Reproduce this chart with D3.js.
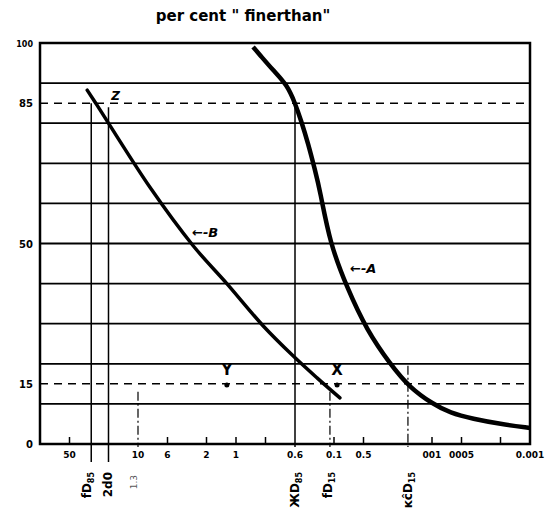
<!DOCTYPE html>
<html>
<head>
<meta charset="utf-8">
<script src="https://cdn.jsdelivr.net/npm/d3@7"></script>
<style>
	body { margin: 0; background: white; }
	text { font-family: "DejaVu Sans", sans-serif; font-weight: bold; fill: black; }
</style>
</head>
<body>
<div id="root"></div>
<script>
//grain size (mm) and percent finer for the two curves
const curveASize = [0.67, 0.569, 0.42, 0.30, 0.25, 0.217, 0.184, 0.156, 0.139, 0.11, 0.0737, 0.046, 0.0268, 0.0168, 0.0098, 0.00655, 0.00382, 0.00202, 0.001];
const curveAPct = [99, 97, 93.25, 89.5, 85, 80.75, 75, 68.25, 63.25, 50, 39, 28.25, 20, 14, 10, 7.75, 6.25, 5, 4];

const curveBSize = [33, 26.2, 7.55, 2.75, 1.24, 0.53, 0.262, 0.149, 0.087];
const curveBPct = [88.25, 84.5, 64, 49.5, 40, 29.5, 22, 16.5, 11.5];

//x tick labels, as written on the sheet
const xTickValues = [50, 10, 5, 2, 1, 0.25, 0.1, 0.05, 0.01, 0.005, 0.001];
const xTickText = ["50", "10", "6", "2", "1", "0.6", "0.1", "0.5", "001", "0005", "0.001"];
//small tick marks on the axis
const xMinorTicks = [50, 5, 2, 1, 0.5, 0.1, 0.05, 0.01, 0.005, 0.002];

//y tick labels
const yTickValues = [100, 85, 50, 15, 0];
const yTickText = ["100", "85", "50", "15", "0"];
const gridValues = [90, 80, 70, 60, 50, 40, 30, 20, 10];
const dashedValues = [85, 15];

//the two marked points on the 15% line
const pointNames = ["Y", "X"];
const pointSize = [1.24, 0.093];
const pointPct = [14.7, 14.7];

//vertical guide lines: size and top percent
const guideSize = [30, 20, 10, 0.25, 0.11, 0.0176];
const guideTop = [85, 84, 13, 84, 13, 19.5];

const width = 546;
const height = 513;

const svg = d3.select("#root")
	.append("svg")
	.attr("width", width)
	.attr("height", height)
	.attr("style", "background-color: white;");

//grain size decreases to the right
const xScale = d3.scaleLog()
	.domain([100, 0.001])
	.range([40, 530]);

const yScale = d3.scaleLinear()
	.domain([0, 100])
	.range([444, 43]);

//horizontal grid lines
svg.selectAll("line.grid")
	.data(gridValues)
	.enter()
	.append("line")
	.attr("class", "grid")
	.attr("x1", xScale(100))
	.attr("x2", xScale(0.001))
	.attr("y1", d => yScale(d))
	.attr("y2", d => yScale(d))
	.attr("stroke", "black")
	.attr("stroke-width", 1.8);

//dashed 85 and 15 lines
svg.selectAll("line.dash")
	.data(dashedValues)
	.enter()
	.append("line")
	.attr("class", "dash")
	.attr("x1", xScale(100))
	.attr("x2", xScale(0.001))
	.attr("y1", d => yScale(d))
	.attr("y2", d => yScale(d))
	.attr("stroke", "black")
	.attr("stroke-width", 1.5)
	.attr("stroke-dasharray", "8,6");

//vertical guide lines
svg.selectAll("line.guide")
	.data(guideSize)
	.enter()
	.append("line")
	.attr("class", "guide")
	.attr("x1", d => xScale(d))
	.attr("x2", d => xScale(d))
	.attr("y1", (d, i) => yScale(guideTop[i]))
	.attr("y2", (d, i) => (i < 2 ? 462 : 447))
	.attr("stroke", "black")
	.attr("stroke-width", (d, i) => (i == 2 || i > 3 ? 1.2 : 1.5))
	.attr("stroke-dasharray", (d, i) => (i == 2 || i > 3 ? "9,3,2,3" : null));

//frame
svg.append("rect")
	.attr("x", xScale(100))
	.attr("y", yScale(100))
	.attr("width", xScale(0.001) - xScale(100))
	.attr("height", yScale(0) - yScale(100))
	.attr("fill", "none")
	.attr("stroke", "black")
	.attr("stroke-width", 2.5);

//x axis tick marks point up into the plot
svg.selectAll("line.xtick")
	.data(xMinorTicks)
	.enter()
	.append("line")
	.attr("class", "xtick")
	.attr("x1", d => xScale(d))
	.attr("x2", d => xScale(d))
	.attr("y1", yScale(0))
	.attr("y2", yScale(0) - 7)
	.attr("stroke", "black")
	.attr("stroke-width", 1.5);

svg.selectAll("text.xlab")
	.data(xTickValues)
	.enter()
	.append("text")
	.attr("class", "xlab")
	.attr("x", d => xScale(d))
	.attr("y", 458)
	.attr("text-anchor", "middle")
	.style("font-size", "9px")
	.text((d, i) => xTickText[i]);

svg.selectAll("text.ylab")
	.data(yTickValues)
	.enter()
	.append("text")
	.attr("class", "ylab")
	.attr("x", 33)
	.attr("y", d => yScale(d) + 4)
	.attr("text-anchor", "end")
	.style("font-size", d => (d == 100 ? "8px" : "10px"))
	.text((d, i) => yTickText[i]);

//curves: A smoothed, B through the points
const lineA = d3.line()
	.x(d => xScale(d[0]))
	.y(d => yScale(d[1]))
	.curve(d3.curveBasis);

const lineB = d3.line()
	.x(d => xScale(d[0]))
	.y(d => yScale(d[1]))
	.curve(d3.curveCatmullRom);

svg.append("path")
	.datum(curveASize.map((d, i) => [d, curveAPct[i]]))
	.attr("d", lineA)
	.attr("fill", "none")
	.attr("stroke", "black")
	.attr("stroke-width", 4.5);

svg.append("path")
	.datum(curveBSize.map((d, i) => [d, curveBPct[i]]))
	.attr("d", lineB)
	.attr("fill", "none")
	.attr("stroke", "black")
	.attr("stroke-width", 3.5)
	.attr("stroke-linecap", "round");

//marked points
svg.selectAll("circle")
	.data(pointSize)
	.enter()
	.append("circle")
	.attr("cx", d => xScale(d))
	.attr("cy", (d, i) => yScale(pointPct[i]))
	.attr("r", 2.5)
	.attr("fill", "black");

svg.selectAll("text.pname")
	.data(pointSize)
	.enter()
	.append("text")
	.attr("class", "pname")
	.attr("x", d => xScale(d))
	.attr("y", (d, i) => yScale(pointPct[i]) - 10)
	.attr("text-anchor", "middle")
	.style("font-size", "15px")
	.text((d, i) => pointNames[i]);

//curve names
svg.append("text")
	.attr("x", 192)
	.attr("y", 237)
	.style("font-size", "13px")
	.style("font-style", "italic")
	.text("\u2190-B");

svg.append("text")
	.attr("x", 350)
	.attr("y", 273)
	.style("font-size", "13px")
	.style("font-style", "italic")
	.text("\u2190-A");

svg.append("text")
	.attr("x", xScale(20) + 7)
	.attr("y", 100)
	.attr("text-anchor", "middle")
	.style("font-size", "12px")
	.style("font-style", "italic")
	.text("Z");

//rotated labels under the guide lines
function rotLabel(x, main, sub) {
	const t = svg.append("text")
		.attr("transform", "translate(" + (x + 4) + ",472) rotate(-90)")
		.attr("text-anchor", "end")
		.style("font-size", "12px");
	t.append("tspan").text(main);
	if (sub) {
		t.append("tspan")
			.attr("dy", 3)
			.style("font-size", "8px")
			.text(sub);
	}
}
rotLabel(xScale(30) - 4, "fD", "85");
rotLabel(xScale(20), "2d0", null);
rotLabel(xScale(0.25), "\u0416D", "85");
rotLabel(xScale(0.11) - 2, "fD", "15");
rotLabel(xScale(0.0176), "\u0138\u0109D", "15");

svg.append("text")
	.attr("transform", "translate(" + (xScale(10) - 1) + ",475) rotate(-90)")
	.attr("text-anchor", "end")
	.style("font-size", "9px")
	.style("font-weight", "normal")
	.attr("fill-opacity", 0.7)
	.text("1.3");

//title
svg.append("text")
	.attr("x", 243)
	.attr("y", 21)
	.attr("text-anchor", "middle")
	.style("font-size", "15px")
	.text("per cent \" finerthan\"");
</script>
</body>
</html>
